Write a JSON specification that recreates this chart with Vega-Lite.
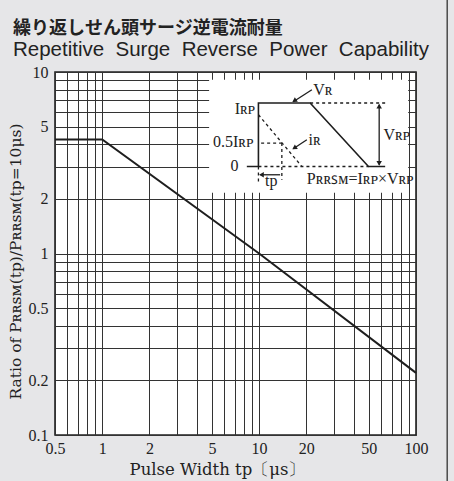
{
  "$schema": "https://vega.github.io/schema/vega-lite/v6.json",
  "width": 361,
  "height": 363,
  "autosize": {"type": "none"},
  "padding": {"left": 55, "top": 72, "right": 38, "bottom": 46},
  "background": "#e6e6e8",
  "config": {
    "view": {"stroke": "#222222", "strokeWidth": 1.6, "fill": "white"}
  },
  "title": {
    "text": "繰り返しせん頭サージ逆電流耐量",
    "subtitle": "Repetitive \u00a0Surge \u00a0Reverse \u00a0Power \u00a0Capability",
    "anchor": "start",
    "frame": "group",
    "dx": -42,
    "offset": -61,
    "font": "Noto Sans CJK JP",
    "fontSize": 18,
    "fontWeight": "bold",
    "color": "#222222",
    "subtitleFont": "Liberation Sans",
    "subtitleFontSize": 20.5,
    "subtitleColor": "#222222",
    "subtitlePadding": 2
  },
  "datasets": {
    "curve": [
      {"tp": 0.5, "ratio": 4.25},
      {"tp": 1, "ratio": 4.25},
      {"tp": 10, "ratio": 1},
      {"tp": 100, "ratio": 0.22}
    ],
    "box": [{"x": 4.8, "x2": 89.2, "y": 2.16, "y2": 9.07}],
    "pulse": [
      {"o": 1, "x": 8.35, "y": 3.016},
      {"o": 2, "x": 9.9, "y": 3.016},
      {"o": 3, "x": 9.9, "y": 6.75},
      {"o": 4, "x": 21.15, "y": 6.75},
      {"o": 5, "x": 49.78, "y": 3.016},
      {"o": 6, "x": 63.6, "y": 3.016}
    ],
    "dashed": [
      {"x": 21.15, "y": 6.75, "x2": 63.6, "y2": 6.75},
      {"x": 9.9, "y": 3.016, "x2": 49.78, "y2": 3.016},
      {"x": 10.3, "y": 4.06, "x2": 13.96, "y2": 4.06},
      {"x": 13.96, "y": 4.06, "x2": 13.96, "y2": 2.548},
      {"x": 9.9, "y": 3.016, "x2": 9.9, "y2": 2.443},
      {"x": 9.9, "y": 5.815, "x2": 18.72, "y2": 3.016}
    ],
    "thin": [
      {"x": 58.25, "y": 6.6, "x2": 58.25, "y2": 3.08},
      {"x": 13.61, "y": 2.715, "x2": 10.2, "y2": 2.715},
      {"x": 20.15, "y": 4.234, "x2": 16.5, "y2": 3.78},
      {"x": 21.69, "y": 7.99, "x2": 16.5, "y2": 6.85}
    ],
    "headDiag": [
      {"x": 16.77, "y": 6.94},
      {"x": 16.77, "y": 3.81}
    ],
    "headLeft": [{"x": 10.35, "y": 2.715}],
    "headUp": [{"x": 58.25, "y": 6.49}],
    "headDown": [{"x": 58.25, "y": 3.133}],
    "labelsRight": [
      {"x": 9.43, "y": 6.28, "t": "Iʀᴘ"},
      {"x": 9.2, "y": 4.1, "t": "0.5Iʀᴘ"},
      {"x": 7.38, "y": 3.016, "t": "0"}
    ],
    "labelsLeft": [
      {"x": 22.1, "y": 7.99, "t": "Vʀ"},
      {"x": 20.63, "y": 4.234, "t": "iʀ"},
      {"x": 62.0, "y": 4.51, "t": "Vʀᴘ"},
      {"x": 10.92, "y": 2.5, "t": "tp"},
      {"x": 20.15, "y": 2.58, "t": "Pʀʀꜱᴍ=Iʀᴘ×Vʀᴘ"}
    ],
    "border": [{"x": 158.1, "y": 25, "y2": 0.0557}]
  },
  "layer": [
    {
      "data": {"name": "curve"},
      "mark": {"type": "line", "color": "#1e1e1e", "strokeWidth": 2},
      "encoding": {
        "x": {
          "field": "tp",
          "type": "quantitative",
          "scale": {"type": "log", "domain": [0.5, 100], "nice": false},
          "axis": {
            "values": [0.5, 0.6, 0.7, 0.8, 0.9, 1, 2, 3, 4, 5, 6, 7, 8, 9, 10, 20, 30, 40, 50, 60, 70, 80, 90, 100],
            "labelExpr": "indexof([0.5,1,2,5,10,20,50,100], datum.value) >= 0 ? datum.label : ''",
            "format": "~g",
            "grid": true,
            "gridColor": "#333333",
            "gridWidth": 1,
            "gridOpacity": 1,
            "ticks": false,
            "domain": false,
            "labelFlush": false,
            "labelOverlap": false,
            "labelFont": "Liberation Serif",
            "labelFontSize": 16,
            "labelColor": "#222222",
            "labelPadding": 5,
            "title": "Pulse Width tp〔μs〕",
            "titleFont": "DejaVu Serif",
            "titleFontSize": 16.5,
            "titleFontWeight": "normal",
            "titleColor": "#222222",
            "titleX": 162,
            "titleY": 39,
            "titleBaseline": "alphabetic",
            "titleAlign": "center"
          }
        },
        "y": {
          "field": "ratio",
          "type": "quantitative",
          "scale": {"type": "log", "domain": [0.1, 10], "nice": false},
          "axis": {
            "values": [0.1, 0.2, 0.3, 0.4, 0.5, 0.6, 0.7, 0.8, 0.9, 1, 2, 3, 4, 5, 6, 7, 8, 9, 10],
            "labelExpr": "indexof([0.1,0.2,0.5,1,2,5,10], datum.value) >= 0 ? datum.label : ''",
            "format": "~g",
            "grid": true,
            "gridColor": "#333333",
            "gridWidth": 1,
            "gridOpacity": 1,
            "ticks": false,
            "domain": false,
            "labelFlush": false,
            "labelOverlap": false,
            "labelFont": "Liberation Serif",
            "labelFontSize": 16,
            "labelColor": "#222222",
            "labelPadding": 7,
            "title": "Ratio of Pʀʀꜱᴍ(tp)/Pʀʀꜱᴍ(tp=10μs)",
            "titleFont": "DejaVu Serif",
            "titleFontSize": 15.5,
            "titleFontWeight": "normal",
            "titleColor": "#222222",
            "titleX": -35,
            "titleY": 189,
            "titleBaseline": "alphabetic",
            "titleAlign": "center"
          }
        }
      }
    },
    {
      "data": {"name": "box"},
      "mark": {"type": "rect", "fill": "white"},
      "encoding": {
        "x": {"field": "x", "type": "quantitative"},
        "x2": {"field": "x2"},
        "y": {"field": "y", "type": "quantitative"},
        "y2": {"field": "y2"}
      }
    },
    {
      "data": {"name": "pulse"},
      "mark": {"type": "line", "color": "#1e1e1e", "strokeWidth": 1.6},
      "encoding": {
        "x": {"field": "x", "type": "quantitative"},
        "y": {"field": "y", "type": "quantitative"},
        "order": {"field": "o"}
      }
    },
    {
      "data": {"name": "dashed"},
      "mark": {"type": "rule", "color": "#1e1e1e", "strokeWidth": 1.3, "strokeDash": [3, 3]},
      "encoding": {
        "x": {"field": "x", "type": "quantitative"},
        "y": {"field": "y", "type": "quantitative"},
        "x2": {"field": "x2"},
        "y2": {"field": "y2"}
      }
    },
    {
      "data": {"name": "thin"},
      "mark": {"type": "rule", "color": "#1e1e1e", "strokeWidth": 1.3},
      "encoding": {
        "x": {"field": "x", "type": "quantitative"},
        "y": {"field": "y", "type": "quantitative"},
        "x2": {"field": "x2"},
        "y2": {"field": "y2"}
      }
    },
    {
      "data": {"name": "headDiag"},
      "mark": {"type": "point", "shape": "triangle-up", "filled": true, "size": 30, "angle": 237, "color": "#1e1e1e", "opacity": 1},
      "encoding": {
        "x": {"field": "x", "type": "quantitative"},
        "y": {"field": "y", "type": "quantitative"}
      }
    },
    {
      "data": {"name": "headLeft"},
      "mark": {"type": "point", "shape": "triangle-up", "filled": true, "size": 30, "angle": 270, "color": "#1e1e1e", "opacity": 1},
      "encoding": {
        "x": {"field": "x", "type": "quantitative"},
        "y": {"field": "y", "type": "quantitative"}
      }
    },
    {
      "data": {"name": "headUp"},
      "mark": {"type": "point", "shape": "triangle-up", "filled": true, "size": 30, "angle": 0, "color": "#1e1e1e", "opacity": 1},
      "encoding": {
        "x": {"field": "x", "type": "quantitative"},
        "y": {"field": "y", "type": "quantitative"}
      }
    },
    {
      "data": {"name": "headDown"},
      "mark": {"type": "point", "shape": "triangle-up", "filled": true, "size": 30, "angle": 180, "color": "#1e1e1e", "opacity": 1},
      "encoding": {
        "x": {"field": "x", "type": "quantitative"},
        "y": {"field": "y", "type": "quantitative"}
      }
    },
    {
      "data": {"name": "labelsRight"},
      "mark": {"type": "text", "align": "right", "baseline": "middle", "font": "Liberation Serif", "fontSize": 16, "color": "#222222"},
      "encoding": {
        "x": {"field": "x", "type": "quantitative"},
        "y": {"field": "y", "type": "quantitative"},
        "text": {"field": "t"}
      }
    },
    {
      "data": {"name": "labelsLeft"},
      "mark": {"type": "text", "align": "left", "baseline": "middle", "font": "Liberation Serif", "fontSize": 16, "color": "#222222"},
      "encoding": {
        "x": {"field": "x", "type": "quantitative"},
        "y": {"field": "y", "type": "quantitative"},
        "text": {"field": "t"}
      }
    },
    {
      "data": {"name": "border"},
      "mark": {"type": "rule", "color": "#4a4a4a", "strokeWidth": 1.5},
      "encoding": {
        "x": {"field": "x", "type": "quantitative"},
        "y": {"field": "y", "type": "quantitative"},
        "y2": {"field": "y2"}
      }
    }
  ]
}
